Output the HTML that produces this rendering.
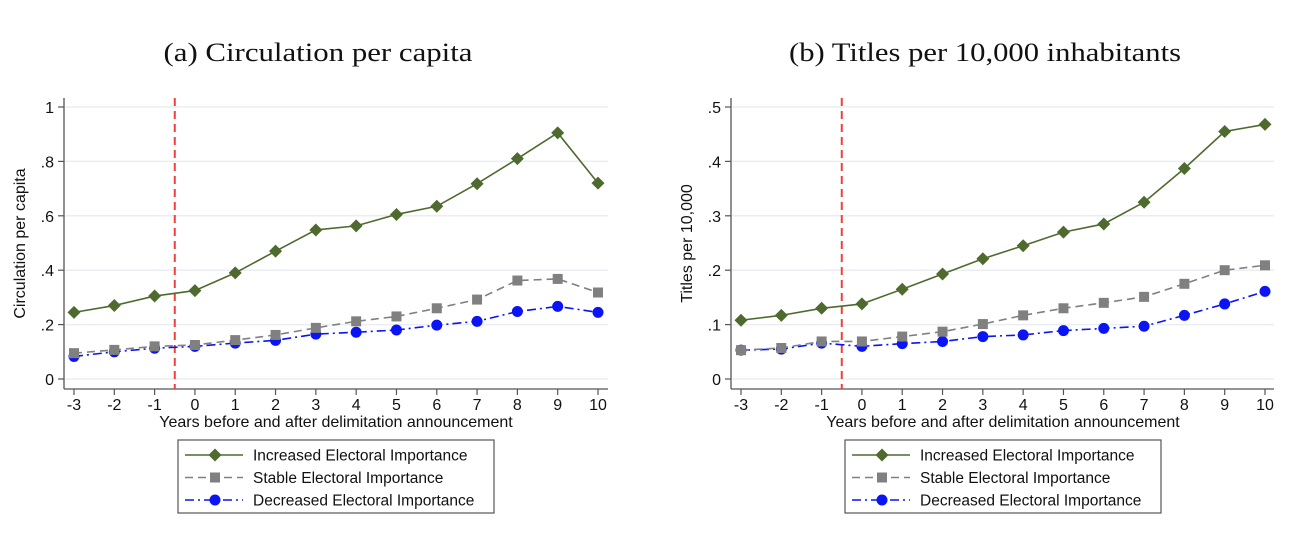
<!DOCTYPE html>
<html><head><meta charset="utf-8"><style>
html,body{margin:0;padding:0;background:#fff}
svg{display:block;font-family:"Liberation Sans",Arial,sans-serif}
</style></head><body>
<svg id="chart" width="1296" height="542" viewBox="0 0 1296 542" xmlns="http://www.w3.org/2000/svg"></svg>
<script>
const years = [-3,-2,-1,0,1,2,3,4,5,6,7,8,9,10];
const circIncreased = [.245,.27,.305,.325,.39,.47,.548,.563,.605,.635,.718,.81,.905,.72];
const circStable = [.095,.107,.12,.125,.143,.162,.188,.212,.23,.26,.292,.362,.368,.318];
const circDecreased = [.083,.1,.113,.12,.132,.142,.165,.172,.18,.198,.212,.248,.267,.245];
const titlesIncreased = [.108,.117,.13,.138,.165,.193,.221,.245,.27,.285,.325,.387,.455,.468];
const titlesStable = [.053,.057,.069,.069,.078,.087,.101,.117,.13,.14,.151,.175,.2,.209];
const titlesDecreased = [.053,.055,.066,.06,.065,.069,.078,.081,.089,.093,.097,.117,.138,.161];
const circTicks = [0,.2,.4,.6,.8,1];
const circTickLabels = ["0",".2",".4",".6",".8","1"];
const titlesTicks = [0,.1,.2,.3,.4,.5];
const titlesTickLabels = ["0",".1",".2",".3",".4",".5"];
const legendLabels = ["Increased Electoral Importance","Stable Electoral Importance","Decreased Electoral Importance"];
const announceYear = -0.5;

const NS="http://www.w3.org/2000/svg";
const svg=document.getElementById('chart');
function mk(tag,attrs,parent){const e=document.createElementNS(NS,tag);for(const k in attrs)e.setAttribute(k,attrs[k]);(parent||svg).appendChild(e);return e;}

const styles=[
 {color:'#4f6a2e',dash:'',marker:'diamond'},
 {color:'#808080',dash:'8,5',marker:'square'},
 {color:'#0a14f5',dash:'9,4,2,4',marker:'circle'}
];
function marker(g,type,x,y,color){
  let m;
  if(type==='diamond'){m=mk('polygon',{points:`${x},${y-6.5} ${x+6.5},${y} ${x},${y+6.5} ${x-6.5},${y}`,fill:color},g);}
  else if(type==='square'){m=mk('rect',{x:x-5,y:y-5,width:10,height:10,fill:color},g);}
  else {m=mk('circle',{cx:x,cy:y,r:5.5,fill:color},g);}
  return m;
}

function panel(o){
  const g=mk('g',{});
  
  
  const xs=v=>o.x0+(v-years[0])*(o.x1-o.x0)/(years[years.length-1]-years[0]);
  const ys=v=>o.yBase-(v/o.yMax)*(o.yBase-o.yTop);
  const t=mk('text',{x:o.titleX,y:61,'text-anchor':'middle','font-family':'"Liberation Serif",serif','font-size':26,fill:'#111',textLength:o.titleLen,lengthAdjust:'spacingAndGlyphs'},g);
  t.textContent=o.title;
  
  
  o.ticks.forEach((v,i)=>{
    const y=ys(v);
    const gl=mk('line',{x1:o.axisX+1,x2:o.axisEnd,y1:y,y2:y,stroke:'#eaeef3','stroke-width':1.5},g);
    
    
    mk('line',{x1:o.axisX-6,x2:o.axisX,y1:y,y2:y,stroke:'#555','stroke-width':1.2},g);
    const tl=mk('text',{x:o.axisX-10,y:y+6,'text-anchor':'end','font-size':16,fill:'#111'},g);
    tl.textContent=o.tickLabels[i];
    
    
  });
  mk('line',{x1:o.axisX,x2:o.axisX,y1:98,y2:389,stroke:'#555','stroke-width':1.3},g);
  mk('line',{x1:o.axisX,x2:o.axisEnd,y1:389,y2:389,stroke:'#555','stroke-width':1.3},g);
  years.forEach(v=>{
    const x=xs(v);
    mk('line',{x1:x,x2:x,y1:389,y2:395,stroke:'#555','stroke-width':1.2},g);
    const tl=mk('text',{x:x,y:410,'text-anchor':'middle','font-size':16,fill:'#111'},g);
    tl.textContent=String(v);
    
    
  });
  const xt=mk('text',{x:(o.x0+o.x1)/2,y:427,'text-anchor':'middle','font-size':16,fill:'#111'},g);
  xt.textContent='Years before and after delimitation announcement';
  
  
  const yt=mk('text',{x:0,y:0,'text-anchor':'middle','font-size':16,fill:'#111',transform:`translate(${o.axisX-39},${(98+389)/2}) rotate(-90)`},g);
  yt.textContent=o.yTitle;
  
  
  const rl=mk('line',{x1:xs(announceYear),x2:xs(announceYear),y1:98,y2:389,stroke:'#f0403a','stroke-width':2,'stroke-dasharray':'8,5'},g);
  
  
  const names=['series-increased','series-stable','series-decreased'];
  [2,1,0].forEach(si=>{
    const data=o.series[si], s=styles[si];
    const sg=mk('g',{},g);
    
    
    const pts=data.map((v,i)=>xs(years[i])+','+ys(v)).join(' ');
    mk('polyline',{points:pts,fill:'none',stroke:s.color,'stroke-width':1.6,'stroke-dasharray':s.dash},sg);
    data.forEach((v,i)=>{
      const m=marker(sg,s.marker,xs(years[i]),ys(v),s.color);
      
      
    });
  });
  const lg=mk('g',{},g);
  
  
  mk('rect',{x:o.legX,y:440,width:316,height:73,fill:'#fff',stroke:'#555','stroke-width':1.2},lg);
  legendLabels.forEach((lab,i)=>{
    const y=455+i*22.5, s=styles[i];
    const eg=mk('g',{},lg);
    
    
    mk('line',{x1:o.legX+7,x2:o.legX+65,y1:y,y2:y,stroke:s.color,'stroke-width':1.6,'stroke-dasharray':s.dash},eg);
    marker(eg,s.marker,o.legX+37,y,s.color);
    const tx=mk('text',{x:o.legX+75,y:y+5.5,'font-size':15.5,fill:'#111'},eg);
    tx.textContent=lab;
  });
}
panel({name:'panel-circulation',title:'(a) Circulation per capita',titleX:318,titleLen:309,x0:74,x1:598,axisX:64,axisEnd:608,yBase:379,yTop:107,yMax:1,ticks:circTicks,tickLabels:circTickLabels,yTitle:'Circulation per capita',series:[circIncreased,circStable,circDecreased],legX:178});
panel({name:'panel-titles',title:'(b) Titles per 10,000 inhabitants',titleX:985,titleLen:392,x0:741,x1:1265,axisX:731,axisEnd:1274,yBase:379,yTop:107,yMax:.5,ticks:titlesTicks,tickLabels:titlesTickLabels,yTitle:'Titles per 10,000',series:[titlesIncreased,titlesStable,titlesDecreased],legX:845});
</script>
</body></html>
